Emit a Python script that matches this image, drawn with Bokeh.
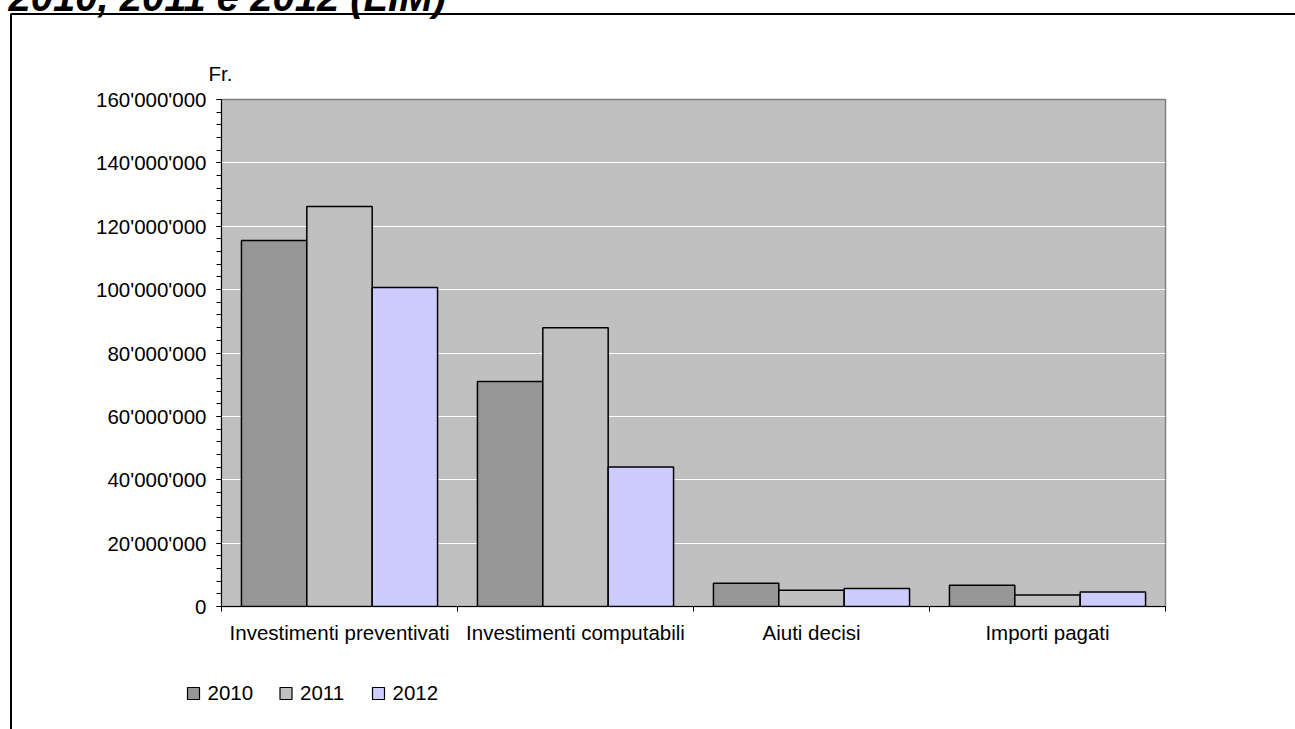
from bokeh.plotting import figure
from bokeh.models import (Range1d, FixedTicker, SingleIntervalTicker, CustomJSTickFormatter, Label,
                          ColumnDataSource)
from bokeh.transform import dodge
from bokeh.embed import file_html
from bokeh.resources import INLINE

# ---- data ----
categories = ["Investimenti preventivati", "Investimenti computabili", "Aiuti decisi", "Importi pagati"]
years = ["2010", "2011", "2012"]
v2010 = [115.5e6, 71.0e6, 7.3e6, 6.7e6]
v2011 = [126.2e6, 88.0e6, 5.1e6, 3.6e6]
v2012 = [100.7e6, 44.0e6, 5.7e6, 4.6e6]
colors = ["#969696", "#C0C0C0", "#CCCCFF"]
title_text = "2010, 2011 e 2012 (LIM)"
unit_text = "Fr."

FONT = "Liberation Sans"
FS = "20.5px"
W, H = 1295, 729
FL, FT, FR, FB = 221, 99, 1165, 606   # frame edges on the canvas
YMAX = 160e6

n = len(categories)
centers = [i + 0.5 for i in range(n)]
src = ColumnDataSource(dict(xc=centers, y2010=v2010, y2011=v2011, y2012=v2012))

p = figure(width=W, height=H, x_range=Range1d(0, n),
           y_range=Range1d(0, YMAX), output_backend="svg", toolbar_location=None,
           min_border_left=FL, min_border_top=FT, min_border_right=W - FR,
           min_border_bottom=H - FB)
p.title.visible = False

p.background_fill_color = "#C0C0C0"
p.border_fill_color = "white"
p.outline_line_color = "#808080"
p.outline_line_width = 1.5

bw = 0.277
offsets = [-bw, 0.0, bw]
cols = ["y2010", "y2011", "y2012"]
for col, off, c in zip(cols, offsets, colors):
    p.vbar(x=dodge("xc", off), top=col, width=bw, source=src,
           fill_color=c, line_color="black", line_width=1.5)

# y axis
ya = p.yaxis[0]
ya.ticker = SingleIntervalTicker(interval=20e6, num_minor_ticks=5)
ya.formatter = CustomJSTickFormatter(code="return tick.toFixed(0).replace(/\\B(?=(\\d{3})+(?!\\d))/g, \"'\");")
ya.major_label_text_font = FONT
ya.major_label_text_font_size = FS
ya.major_label_text_color = "black"
ya.major_label_standoff = 10
ya.major_tick_out = 5
ya.major_tick_in = 0
ya.minor_tick_out = 5
ya.minor_tick_in = 0
ya.axis_line_color = "black"
ya.major_tick_line_color = "black"
ya.minor_tick_line_color = "black"

p.ygrid.grid_line_color = "white"
p.ygrid.grid_line_width = 1
p.xgrid.grid_line_color = None

# x axis: labels at category centres, ticks at category boundaries
xa = p.xaxis[0]
xa.ticker = FixedTicker(ticks=centers, minor_ticks=list(range(n + 1)))
xa.major_label_overrides = {c: lab for c, lab in zip(centers, categories)}
xa.major_tick_line_color = None
xa.major_tick_out = 0
xa.major_tick_in = 0
xa.minor_tick_out = 5
xa.minor_tick_in = 0
xa.minor_tick_line_color = "black"
xa.axis_line_color = "black"
xa.major_label_text_font = FONT
xa.major_label_text_font_size = FS
xa.major_label_text_color = "black"
xa.major_label_standoff = 9

# pixel -> data helpers for decorations drawn outside the plot area
def dx(px):
    return (px - FL) / (FR - FL) * n

def dy(py):
    return (FB - py) / (FB - FT) * YMAX

def side_label(text, px, py_mid, size, panel, style="normal"):
    # labels live in a side panel (so they are not clipped to the plot area),
    # positioned through the plot's scales; py_mid is the vertical middle of the text
    p.add_layout(Label(x=dx(px), y=dy(py_mid), x_units="data", y_units="data", text=text,
                       text_font=FONT, text_font_size=size, text_font_style=style,
                       text_color="black", text_baseline="middle"), panel)

# title (cut off at the top, as in the reference) and unit label
side_label(title_text, 8, -3.3, "40px", "above", "bold italic")
side_label(unit_text, 208, 73, FS, "above")

# legend (squares + labels), below the category labels
LEG_X0, LEG_STEP, SQ, LEG_TOP, LEG_GAP, LEG_MID = 187, 92.5, 12, 687, 8, 692.5
for i, (yr, c) in enumerate(zip(years, colors)):
    x0 = LEG_X0 + i * LEG_STEP
    sq = p.patch(x=[dx(x0), dx(x0 + SQ), dx(x0 + SQ), dx(x0)],
                 y=[dy(LEG_TOP), dy(LEG_TOP), dy(LEG_TOP + SQ), dy(LEG_TOP + SQ)],
                 fill_color=c, line_color="black", line_width=1.2)
    sq.level = "overlay"
    side_label(yr, x0 + SQ + LEG_GAP, LEG_MID, FS, "below")

# outer chart frame (decoration, drawn on the overlay level so it is not clipped)
fr = p.line(x=[dx(W + 20), dx(10.5), dx(10.5)], y=[dy(13.5), dy(13.5), dy(H + 20)],
            line_color="black", line_width=2)
fr.level = "overlay"

open("out.html", "w").write(file_html(p, INLINE))
